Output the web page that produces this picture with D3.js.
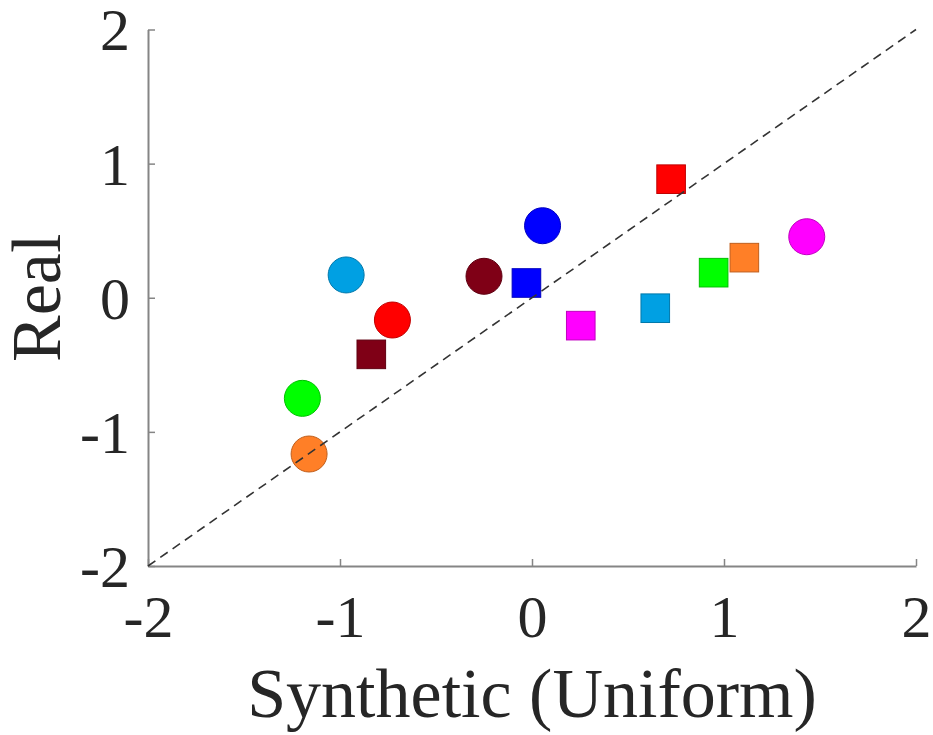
<!DOCTYPE html>
<html>
<head>
<meta charset="utf-8">
<script src="https://cdn.jsdelivr.net/npm/d3@7"></script>
<style>
  body { margin: 0; background: #fff; }
</style>
</head>
<body>
<div id="chart"></div>
<script>
// data
const colors = ['#00a0e3', '#0000ff', '#7f0016', '#ff0000', '#00ff00', '#ff7f27', '#ff00ff'];
const circleX = [-0.968, 0.055, -0.25, -0.727, -1.196, -1.161, 1.431];
const circleY = [0.17, 0.537, 0.16, -0.166, -0.75, -1.165, 0.455];
const squareX = [0.642, -0.029, -0.837, 0.7245, 0.946, 1.106, 0.254];
const squareY = [-0.078, 0.11, -0.422, 0.884, 0.187, 0.299, -0.208];
const ticks = [-2, -1, 0, 1, 2];
const tickLabels = ['-2', '-1', '0', '1', '2'];

const serif = "'Liberation Serif', 'DejaVu Serif', serif";
const width = 933, height = 735;
const margin = { top: 29.5, right: 17, bottom: 169, left: 148 };
const w = width - margin.left - margin.right;
const h = height - margin.top - margin.bottom;

const x_scale = d3.scaleLinear().domain([-2, 2]).range([0, w]);
const y_scale = d3.scaleLinear().domain([-2, 2]).range([h, 0]);

const svg = d3.select('#chart').append('svg')
  .attr('width', width)
  .attr('height', height)
  .attr('font-family', serif);

const g = svg.append('g')
  .attr('transform', 'translate(' + margin.left + ',' + margin.top + ')');

const fmt = (d, i) => tickLabels[i];

// axes, MATLAB style with inward ticks
const xAxis = g.append('g')
  .attr('transform', 'translate(0,' + h + ')')
  .call(d3.axisBottom(x_scale).tickValues(ticks).tickFormat(fmt)
    .tickSize(-7).tickSizeOuter(0).tickPadding(28));
const yAxis = g.append('g')
  .call(d3.axisLeft(y_scale).tickValues(ticks).tickFormat(fmt)
    .tickSize(-7).tickSizeOuter(0).tickPadding(18));

[xAxis, yAxis].forEach((a) => {
  a.attr('font-family', serif).attr('font-size', 60);
  a.select('.domain').attr('stroke', '#858585').attr('stroke-width', 2);
  a.selectAll('.tick line').attr('stroke', '#858585').attr('stroke-width', 1.5);
  a.selectAll('.tick text').attr('fill', '#262626');
});
xAxis.selectAll('.tick text').attr('dy', '0.71em');
yAxis.selectAll('.tick text').attr('dy', '0.34em');

// markers
const circles = circleX.map((v, i) => ({ x: v, y: circleY[i], c: colors[i] }));
const squares = squareX.map((v, i) => ({ x: v, y: squareY[i], c: colors[i] }));

g.selectAll('.sq')
  .data(squares)
  .enter().append('rect')
  .attr('class', 'sq')
  .attr('x', (d) => x_scale(d.x) - 14.3)
  .attr('y', (d) => y_scale(d.y) - 14.3)
  .attr('width', 28.6)
  .attr('height', 28.6)
  .attr('fill', (d) => d.c)
  .attr('stroke', (d) => d3.color(d.c).darker(0.8))
  .attr('stroke-width', 1);

g.selectAll('.dot')
  .data(circles)
  .enter().append('circle')
  .attr('class', 'dot')
  .attr('cx', (d) => x_scale(d.x))
  .attr('cy', (d) => y_scale(d.y))
  .attr('r', 18)
  .attr('fill', (d) => d.c)
  .attr('stroke', (d) => d3.color(d.c).darker(0.8))
  .attr('stroke-width', 1);

// identity line
g.append('line')
  .attr('x1', x_scale(-2)).attr('y1', y_scale(-2))
  .attr('x2', x_scale(2)).attr('y2', y_scale(2))
  .attr('stroke', '#333')
  .attr('stroke-width', 1.6)
  .attr('stroke-dasharray', '9,6');

// labels
svg.append('text')
  .attr('x', margin.left + w / 2)
  .attr('y', 717)
  .attr('text-anchor', 'middle')
  .attr('font-size', 70)
  .attr('fill', '#262626')
  .text('Synthetic (Uniform)');

svg.append('text')
  .attr('transform', 'translate(60,' + (margin.top + h / 2) + ') rotate(-90)')
  .attr('text-anchor', 'middle')
  .attr('font-size', 70)
  .attr('fill', '#262626')
  .text('Real');
</script>
</body>
</html>
